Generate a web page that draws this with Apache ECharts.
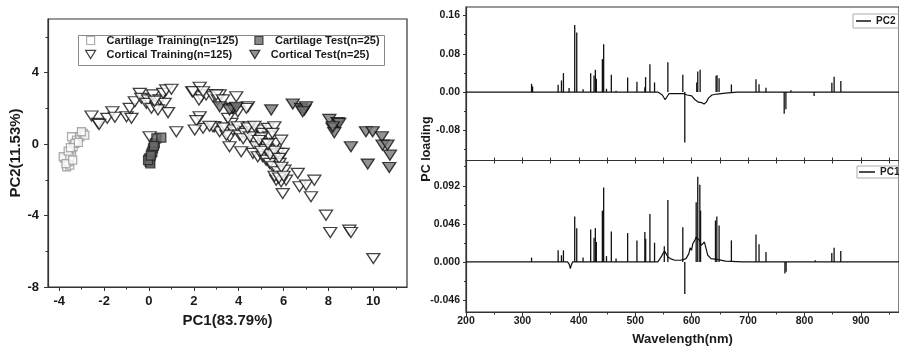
<!DOCTYPE html>
<html><head><meta charset="utf-8">
<script src="https://cdn.jsdelivr.net/npm/echarts@6/dist/echarts.min.js"></script>
<style>html,body{margin:0;padding:0;background:#fff}#c{width:899px;height:349px}</style>
</head><body><div id="c"></div>
<script>
// ---------------- Scatter data (PC1 vs PC2) ----------------
const cartTrainX = [-3.75,-3.67,-3.53,-3.45,-3.38,-3.45,-3.23,-3.08,-2.93,-2.86,-3.60,-3.82,-3.53,-3.30,-3.01,-3.70,-3.60,-3.40,-3.15,-3.50];
const cartTrainY = [-0.80,-1.27,-1.18,-0.52,-0.15,0.41,0.22,0.41,0.60,0.50,-0.99,-0.71,-0.71,0.04,0.69,-1.10,-0.40,-0.90,0.10,-0.20];
const cartTestX = [0.03,0.00,0.11,0.18,0.26,0.33,0.55,0.06,-0.04,0.15,0.08,0.22];
const cartTestY = [-0.99,-0.80,-0.52,-0.24,0.04,0.32,0.36,-1.08,-0.90,-0.43,-0.65,-0.10];
const cortTrainX = [-2.56,-2.27,-1.86,-1.63,-1.52,-1.00,-0.78,-0.86,-0.63,-0.41,-0.34,-0.04,0.18,-0.12,0.11,0.33,0.48,0.63,0.77,1.00,
  0.70,0.85,0.40,0.03,1.22,1.93,2.26,2.33,2.23,2.55,2.85,3.07,3.15,2.26,2.41,2.11,2.92,3.15,3.44,3.67,
  3.59,3.74,3.96,4.04,4.33,4.41,3.89,3.96,3.52,3.59,4.11,4.26,4.48,4.63,4.70,4.78,4.93,5.07,5.15,5.30,
  5.37,5.45,5.52,5.59,5.67,5.74,5.82,5.89,5.96,6.04,6.11,5.67,5.89,5.96,4.63,4.85,5.07,5.22,5.37,5.52,
  5.74,6.63,6.71,7.00,7.22,7.37,7.89,8.08,8.93,9.00,10.00,1.96,2.41,3.00,3.30,3.74,2.04,2.85,3.45,4.34,
  -2.22,0.25,5.00,4.20,5.60,5.80,4.50,4.90,5.20,5.40,5.60,5.80,5.00,4.40,5.90,6.00,3.30,2.70,4.70,5.30,5.50];
const cortTrainY = [1.57,1.16,1.44,1.81,1.50,1.53,1.44,2.00,2.37,2.84,2.56,2.47,2.75,2.28,2.00,2.13,2.47,2.84,3.03,3.07,
  2.28,1.76,1.91,0.41,0.69,2.93,3.18,2.65,2.47,2.75,2.65,2.47,2.75,1.53,0.88,1.31,0.97,0.69,0.88,1.16,
  0.41,0.79,0.97,0.50,0.69,2.09,2.65,1.81,1.44,-0.15,-0.43,0.60,0.97,0.69,0.22,-0.15,0.79,0.60,0.04,0.88,
  0.41,-0.34,-0.71,0.97,0.04,-0.52,-1.08,0.22,-0.52,-1.46,-2.02,-2.02,-2.11,-2.77,-0.52,-0.71,-0.71,-0.90,-1.08,-1.27,
  -1.55,-1.64,-2.39,-2.30,-2.95,-2.02,-3.98,-4.95,-4.82,-4.95,-6.41,2.93,2.93,2.75,2.47,2.00,0.79,0.97,0.50,2.00,
  1.10,2.40,0.35,0.30,-1.80,-1.90,0.40,0.20,-0.30,-0.60,-0.40,-0.80,-0.40,0.90,-1.30,-1.80,0.90,1.00,1.00,0.00,0.60];
const cortTestX = [3.15,3.74,3.59,3.89,5.45,6.41,6.78,6.93,7.00,6.85,8.04,8.19,8.41,8.48,8.26,9.00,9.67,9.97,10.38,10.41,10.63,10.74,9.75,10.71,8.19];
const cortTestY = [2.09,2.00,1.91,2.06,1.91,2.24,2.00,1.91,2.09,1.81,1.38,0.88,1.20,1.16,0.64,-0.15,0.69,0.69,0.41,-0.06,-0.06,-0.62,-1.12,-1.31,0.97];

// ---------------- Loading spectra ----------------
const pc2BaseWl  = [200,540,548,553,556,560,585,592,600,606,612,618,622,626,630,636,645,660,680,1000];
const pc2BaseVal = [0,0,-0.006,-0.016,-0.012,-0.003,-0.003,-0.006,-0.008,-0.016,-0.021,-0.022,-0.025,-0.021,-0.012,-0.006,-0.004,-0.002,0,0];
const pc2PeakWl  = [316.2,318,363.3,369.2,372.7,382.7,392.7,396.3,407.5,421,427,429.3,431,441.7,444,449,457.6,466,486.5,503,517,518.3,526,534.2,557.8,584.3,587.8,609,610.8,615,643.3,645,648.6,670.4,714,719.4,731.7,764,767,776,817,848.5,852.5,864.4];
const pc2PeakVal = [0.0174,0.012,0.0153,0.0244,0.0397,0.0084,0.1406,0.1246,0.006,0.0397,0.0348,0.0466,0.028,0.0689,0.1002,0.007,0.0362,0.003,0.0306,0.0216,0.0104,0.0313,0.0585,0.0202,0.0626,0.0362,-0.1051,0.0202,0.0432,0.0466,0.0341,0.0355,0.0292,0.016,0.0271,0.0167,0.009,-0.0453,-0.036,0.004,-0.008,0.0195,0.032,0.023];

const pc1BaseWl  = [200,380,383,385,386.5,389,540,546,549,552,555,558,562,570,580,586,590,595,597.3,599.7,602,605.5,608,610.8,613.8,616.8,619.7,622.6,625.6,628.5,634.4,645,660,690,1000];
const pc1BaseVal = [0,0,-0.003,-0.008,-0.004,0,0,0.006,0.010,0.013,0.012,0.006,0.004,0.002,0.002,0.003,0.004,0.010,0.017,0.014,0.022,0.026,0.030,0.031,0.026,0.020,0.018,0.024,0.016,0.008,0.004,0.003,0.001,0,0];
const pc1PeakWl  = [316.2,363.3,369.2,372.7,392.7,396.3,407.5,421,427,429.3,431,441.7,444,449,457.6,466,486.5,503,517,518.5,526,534.2,551.5,557.8,584.3,587.8,608,610.8,614.5,615.8,642.2,644.6,648.6,670.4,714,719.4,731.7,765.3,767.4,819,848.4,852.5,864.3];
const pc1PeakVal = [0.0052,0.014,0.008,0.014,0.0548,0.0408,0.0052,0.0392,0.0292,0.0408,0.024,0.062,0.090,0.007,0.0368,0.004,0.0348,0.026,0.036,0.028,0.058,0.0232,0.0188,0.0749,0.042,-0.0388,0.072,0.1029,0.0933,0.062,0.050,0.0548,0.044,0.026,0.0332,0.0212,0.012,-0.014,-0.012,0.002,0.0108,0.0172,0.0132];

// ---------------- Tick values ----------------
const pc1Ticks = [-4,-2,0,2,4,6,8,10];
const pc1Minor = [-3,-1,1,3,5,7,9,11];
const pc2Ticks = [-8,-4,0,4];
const pc2Minor = [-6,-2,2,6];
const wlTicks = [200,300,400,500,600,700,800,900];
const wlMinor = [250,350,450,550,650,750,850,950];
const wlAll = [200,250,300,350,400,450,500,550,600,650,700,750,800,850,900,950];
const topTicks = [-0.08,0,0.08,0.16];
const topMinor = [-0.12,-0.04,0.04,0.12];
const botTicks = [-0.046,0,0.046,0.092];
const botMinor = [-0.023,0.023,0.069,0.115];
const WL_MIN = 200, WL_MAX = 967.5;

const FONT = '"Liberation Sans", Arial, Helvetica, sans-serif';
const INK = '#1a1a1a';
const zip = (xs, ys) => xs.map((x, i) => [x, ys[i]]);

function axis(o) {
  const base = {
    type: 'value', splitLine: {show: false},
    axisLine: {show: true, onZero: false, lineStyle: {color: '#333', width: 1.2}},
    axisTick: {show: true, lineStyle: {color: '#333', width: 1}},
    axisLabel: {show: false, color: INK, fontWeight: 'bold', fontFamily: FONT},
    nameTextStyle: {color: INK, fontWeight: 'bold', fontFamily: FONT}
  };
  for (const k in o) {
    if (o[k] && typeof o[k] === 'object' && !Array.isArray(o[k]) && base[k]) base[k] = Object.assign({}, base[k], o[k]);
    else base[k] = o[k];
  }
  return base;
}

const chart = echarts.init(document.getElementById('c'), null, {renderer: 'canvas'});
const downTri = 'path://M0,0L12,0L6,10Z';

chart.setOption({
  animation: false,
  backgroundColor: '#fff',
  grid: [
    {left: 48, top: 19, width: 359, height: 268, show: true, borderColor: '#333', borderWidth: 1.2},
    {left: 466, top: 7, width: 434, height: 153.5, show: true, borderColor: '#333', borderWidth: 1.2},
    {left: 466, top: 160.5, width: 434, height: 151.5, show: true, borderColor: '#333', borderWidth: 1.2}
  ],
  xAxis: [
    axis({gridIndex: 0, min: -4.5, max: 11.5, position: 'bottom',
      axisTick: {customValues: pc1Ticks, length: 4},
      axisLabel: {show: true, customValues: pc1Ticks, fontSize: 13, margin: 8},
      name: 'PC1(83.79%)', nameLocation: 'middle', nameGap: 22,
      nameTextStyle: {fontSize: 15}}),
    axis({gridIndex: 0, min: -4.5, max: 11.5, position: 'bottom', axisLine: {show: false},
      axisTick: {customValues: pc1Minor, length: 2.5}}),
    axis({gridIndex: 1, min: WL_MIN, max: WL_MAX, position: 'bottom',
      axisTick: {customValues: wlAll, length: 3, inside: true}}),
    axis({gridIndex: 2, min: WL_MIN, max: WL_MAX, position: 'bottom',
      axisTick: {customValues: wlTicks, length: 4},
      axisLabel: {show: true, customValues: wlTicks, fontSize: 10.5, margin: 4},
      name: 'Wavelength(nm)', nameLocation: 'middle', nameGap: 21,
      nameTextStyle: {fontSize: 13}}),
    axis({gridIndex: 2, min: WL_MIN, max: WL_MAX, position: 'bottom', axisLine: {show: false},
      axisTick: {customValues: wlMinor, length: 2.5}}),
    axis({gridIndex: 2, min: WL_MIN, max: WL_MAX, position: 'top', axisLine: {show: false},
      axisTick: {customValues: wlAll, length: 3, inside: true}})
  ],
  yAxis: [
    axis({gridIndex: 0, min: -8, max: 7, position: 'left',
      axisTick: {customValues: pc2Ticks, length: 4},
      axisLabel: {show: true, customValues: pc2Ticks, fontSize: 13, margin: 9},
      name: 'PC2(11.53%)', nameLocation: 'middle', nameGap: 25,
      nameTextStyle: {fontSize: 15}}),
    axis({gridIndex: 0, min: -8, max: 7, position: 'left', axisLine: {show: false},
      axisTick: {customValues: pc2Minor, length: 2.5}}),
    axis({gridIndex: 1, min: -0.143, max: 0.178, position: 'left',
      axisTick: {customValues: topTicks, length: 3},
      axisLabel: {show: true, customValues: topTicks, fontSize: 10.5, margin: 6,
        formatter: v => v.toFixed(2)}}),
    axis({gridIndex: 1, min: -0.143, max: 0.178, position: 'left', axisLine: {show: false},
      axisTick: {customValues: topMinor, length: 2}}),
    axis({gridIndex: 2, min: -0.0605, max: 0.1225, position: 'left',
      axisTick: {customValues: botTicks, length: 3},
      axisLabel: {show: true, customValues: botTicks, fontSize: 10.5, margin: 6,
        formatter: v => v.toFixed(3)}}),
    axis({gridIndex: 2, min: -0.0605, max: 0.1225, position: 'left', axisLine: {show: false},
      axisTick: {customValues: botMinor, length: 2}})
  ],
  legend: [
    {data: [{name: 'Cartilage Training(n=125)', icon: 'rect'}, {name: 'Cartilage Test(n=25)', icon: 'rect'}],
      left: 86, top: 35, padding: 0, itemWidth: 8, itemHeight: 8, itemGap: 16, symbolRotate: 0,
      selectedMode: false, itemStyle: {borderWidth: 1.2},
      textStyle: {color: INK, fontWeight: 'bold', fontFamily: FONT, fontSize: 11, padding: [0, 0, 0, 7]}},
    {data: [{name: 'Cortical Training(n=125)', icon: downTri}, {name: 'Cortical Test(n=25)', icon: downTri}],
      left: 85, top: 49, padding: 0, itemWidth: 10, itemHeight: 9, itemGap: 17, symbolRotate: 0,
      selectedMode: false, itemStyle: {borderWidth: 1.2},
      textStyle: {color: INK, fontWeight: 'bold', fontFamily: FONT, fontSize: 11, padding: [0, 0, 0, 6]}},
    {data: [{name: 'PC2', icon: 'rect'}], left: 853, top: 14, padding: [2, 6, 2, 3], itemWidth: 15, itemHeight: 1.5,
      borderColor: '#aaa', borderWidth: 1, selectedMode: false,
      textStyle: {color: INK, fontWeight: 'bold', fontFamily: FONT, fontSize: 10}},
    {data: [{name: 'PC1', icon: 'rect'}], left: 857, top: 166, padding: [1, 6, 1, 2], itemWidth: 16, itemHeight: 1.5,
      borderColor: '#aaa', borderWidth: 1, selectedMode: false,
      textStyle: {color: INK, fontWeight: 'bold', fontFamily: FONT, fontSize: 10}}
  ],
  graphic: [
    {type: 'rect', left: 76, top: 33, shape: {width: 306, height: 30},
      style: {fill: 'none', stroke: '#888', lineWidth: 1}, silent: true, z: 100},
    {type: 'text', x: 427, y: 149, rotation: Math.PI / 2, silent: true,
      style: {text: 'PC loading', font: 'bold 12.5px ' + FONT, fill: INK, align: 'center', verticalAlign: 'middle'}}
  ],
  series: [
    {name: 'Cortical Training(n=125)', type: 'scatter', xAxisIndex: 0, yAxisIndex: 0,
      data: zip(cortTrainX, cortTrainY), symbol: 'triangle', symbolRotate: 180, symbolSize: [13, 10],
      itemStyle: {color: '#fff', borderColor: '#111', borderWidth: 1.3}},
    {name: 'Cortical Test(n=25)', type: 'scatter', xAxisIndex: 0, yAxisIndex: 0,
      data: zip(cortTestX, cortTestY), symbol: 'triangle', symbolRotate: 180, symbolSize: [13, 10],
      itemStyle: {color: '#777', borderColor: '#111', borderWidth: 1.3}},
    {name: 'Cartilage Training(n=125)', type: 'scatter', xAxisIndex: 0, yAxisIndex: 0,
      data: zip(cartTrainX, cartTrainY), symbol: 'rect', symbolSize: 8,
      itemStyle: {color: '#fff', borderColor: '#999', borderWidth: 1.3}},
    {name: 'Cartilage Test(n=25)', type: 'scatter', xAxisIndex: 0, yAxisIndex: 0,
      data: zip(cartTestX, cartTestY), symbol: 'rect', symbolSize: 9,
      itemStyle: {color: '#6a6a6a', borderColor: '#222', borderWidth: 1.3}},

    {name: 'PC2', type: 'line', xAxisIndex: 2, yAxisIndex: 2, data: zip(pc2BaseWl, pc2BaseVal),
      symbol: 'none', lineStyle: {color: '#111', width: 1.2}, itemStyle: {color: '#111'}},
    {name: 'PC2 lines', type: 'bar', xAxisIndex: 2, yAxisIndex: 2, data: zip(pc2PeakWl, pc2PeakVal),
      barWidth: 1.3, itemStyle: {color: '#111'}},
    {name: 'PC1', type: 'line', xAxisIndex: 3, yAxisIndex: 4, data: zip(pc1BaseWl, pc1BaseVal),
      symbol: 'none', lineStyle: {color: '#111', width: 1.2}, itemStyle: {color: '#111'}},
    {name: 'PC1 lines', type: 'bar', xAxisIndex: 3, yAxisIndex: 4, data: zip(pc1PeakWl, pc1PeakVal),
      barWidth: 1.3, itemStyle: {color: '#111'}}
  ]
});
</script>
</body></html>
